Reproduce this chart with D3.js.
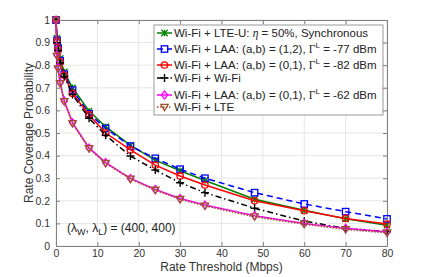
<!DOCTYPE html>
<html>
<head>
<meta charset="utf-8">
<script src="https://cdn.jsdelivr.net/npm/d3@7"></script>
<style>
body { margin: 0; background: #fff; }
text { font-family: "Liberation Sans", Arial, sans-serif; }
</style>
</head>
<body>
<svg id="chart" width="429" height="277"></svg>
<script>
const rates = [0, 0.25, 0.5, 1, 2, 4, 8, 12, 18, 24, 30, 36, 48, 60, 70, 80]

const lteU   = [1, 0.92, 0.88, 0.83, 0.77, 0.70, 0.597, 0.528, 0.445, 0.38, 0.333, 0.29, 0.207, 0.158, 0.12, 0.092]
const laa12  = [1, 0.91, 0.875, 0.82, 0.76, 0.69, 0.585, 0.52, 0.442, 0.388, 0.34, 0.30, 0.236, 0.186, 0.152, 0.12]
const laa01a = [1, 0.905, 0.87, 0.815, 0.755, 0.675, 0.58, 0.50, 0.425, 0.358, 0.31, 0.27, 0.20, 0.156, 0.122, 0.097]
const wifi   = [1, 0.90, 0.865, 0.81, 0.75, 0.67, 0.565, 0.49, 0.398, 0.336, 0.28, 0.236, 0.167, 0.11, 0.078, 0.064]
const laa01b = [1, 0.845, 0.79, 0.722, 0.642, 0.545, 0.434, 0.369, 0.299, 0.25, 0.21, 0.181, 0.134, 0.10, 0.078, 0.062]
const lte    = [1, 0.84, 0.785, 0.72, 0.64, 0.543, 0.432, 0.367, 0.297, 0.248, 0.207, 0.178, 0.13, 0.097, 0.074, 0.059]

const xTicks = [0, 10, 20, 30, 40, 50, 60, 70, 80]
const yTicks = [0, 0.1, 0.2, 0.3, 0.4, 0.5, 0.6, 0.7, 0.8, 0.9, 1]

const series = [
  {name: "lteU", values: lteU, color: "#008000", dash: null, marker: "x"},
  {name: "laa12", values: laa12, color: "#0000ff", dash: "6,4", marker: "square"},
  {name: "laa01a", values: laa01a, color: "#ff0000", dash: null, marker: "circle"},
  {name: "wifi", values: wifi, color: "#000000", dash: "6,3,1.5,3", marker: "plus"},
  {name: "laa01b", values: laa01b, color: "#ff00ff", dash: null, marker: "diamond"},
  {name: "lte", values: lte, color: "#a0522d", dash: "1.5,1.5", marker: "tri"}
]

let svg = d3.select("#chart")
let margin = {left: 56, right: 42, top: 20, bottom: 31}
let w = 429 - margin.left - margin.right
let h = 277 - margin.top - margin.bottom

const x = d3.scaleLinear().domain([0, 80]).range([margin.left, margin.left + w])
const y = d3.scaleLinear().domain([0, 1]).range([margin.top + h, margin.top])

// grid
let grid = svg.append("g")
grid.selectAll(".gx").data(xTicks).enter().append("line")
  .attr("x1", d => x(d)).attr("x2", d => x(d))
  .attr("y1", y(0)).attr("y2", y(1))
  .attr("stroke", "#e6e6e6").attr("stroke-width", 1)
grid.selectAll(".gy").data(yTicks).enter().append("line")
  .attr("x1", x(0)).attr("x2", x(80))
  .attr("y1", d => y(d)).attr("y2", d => y(d))
  .attr("stroke", "#e6e6e6").attr("stroke-width", 1)

// axes (ticks inside, matlab style)
const tk = 4
let axb = svg.append("g").attr("transform", "translate(0," + y(0) + ")")
  .call(d3.axisBottom(x).tickValues(xTicks).tickSizeInner(-tk).tickSizeOuter(0).tickPadding(4))
let axt = svg.append("g").attr("transform", "translate(0," + y(1) + ")")
  .call(d3.axisTop(x).tickValues(xTicks).tickSizeInner(-tk).tickSizeOuter(0).tickFormat(""))
let axl = svg.append("g").attr("transform", "translate(" + x(0) + ",0)")
  .call(d3.axisLeft(y).tickValues(yTicks).tickSizeInner(-tk).tickSizeOuter(0).tickPadding(6).tickFormat(d3.format("~g")))
let axr = svg.append("g").attr("transform", "translate(" + x(80) + ",0)")
  .call(d3.axisRight(y).tickValues(yTicks).tickSizeInner(-tk).tickSizeOuter(0).tickFormat(""))

for (let a of [axb, axt, axl, axr]) {
  a.select(".domain").attr("stroke", "#808080").attr("stroke-width", 1)
  a.selectAll(".tick line").attr("stroke", "#808080")
  a.selectAll("text").attr("fill", "#333").style("font-size", "10.5px")
    .style("font-family", "'Liberation Sans', Arial, sans-serif")
}

// axis labels
svg.append("text").attr("x", x(40)).attr("y", 271)
  .attr("text-anchor", "middle").style("font-size", "12px").attr("fill", "#333")
  .text("Rate Threshold (Mbps)")
svg.append("text").attr("transform", "translate(33," + y(0.5) + ") rotate(-90)")
  .attr("text-anchor", "middle").style("font-size", "12px").attr("fill", "#333")
  .text("Rate Coverage Probability")

// markers
function drawMarker(g, m, cx, cy, color) {
  let s = 3.2
  if (m == "x") {
    g.append("path").attr("d", `M${cx-s},${cy-s}L${cx+s},${cy+s}M${cx-s},${cy+s}L${cx+s},${cy-s}M${cx},${cy-s}L${cx},${cy+s}`)
      .attr("stroke", color).attr("stroke-width", 1.3).attr("fill", "none")
  } else if (m == "square") {
    g.append("rect").attr("x", cx - s).attr("y", cy - s).attr("width", 2 * s).attr("height", 2 * s)
      .attr("stroke", color).attr("stroke-width", 1.3).attr("fill", "none")
  } else if (m == "circle") {
    g.append("circle").attr("cx", cx).attr("cy", cy).attr("r", s)
      .attr("stroke", color).attr("stroke-width", 1.3).attr("fill", "none")
  } else if (m == "plus") {
    g.append("path").attr("d", `M${cx-s-0.8},${cy}L${cx+s+0.8},${cy}M${cx},${cy-s-0.8}L${cx},${cy+s+0.8}`)
      .attr("stroke", color).attr("stroke-width", 1.4).attr("fill", "none")
  } else if (m == "diamond") {
    g.append("path").attr("d", `M${cx},${cy-s-0.8}L${cx+s},${cy}L${cx},${cy+s+0.8}L${cx-s},${cy}Z`)
      .attr("stroke", color).attr("stroke-width", 1.3).attr("fill", "none")
  } else if (m == "tri") {
    g.append("path").attr("d", `M${cx-s-0.5},${cy-s+0.5}L${cx+s+0.5},${cy-s+0.5}L${cx},${cy+s+0.5}Z`)
      .attr("stroke", color).attr("stroke-width", 1.3).attr("fill", "none")
  }
}

const line = d3.line().x(d => x(d[0])).y(d => y(d[1]))

let plot = svg.append("g")
for (let s of series) {
  let pts = rates.map((r, i) => [r, s.values[i]])
  plot.append("path").datum(pts).attr("d", line)
    .attr("fill", "none").attr("stroke", s.color).attr("stroke-width", s.name == "lte" ? 1.8 : 1.5)
    .attr("stroke-dasharray", s.dash)
  let mg = plot.append("g")
  for (let p of pts) drawMarker(mg, s.marker, x(p[0]), y(p[1]), s.color)
}

// legend
let lg = svg.append("g")
lg.append("rect").attr("x", 154).attr("y", 25).attr("width", 229).attr("height", 90)
  .attr("fill", "#fff").attr("stroke", "#808080").attr("stroke-width", 0.8)
const rowY = [33, 49, 65, 78, 95, 107]
const labels = [
  ["Wi-Fi + LTE-U: ", {it: "η"}, " = 50%, Synchronous"],
  ["Wi-Fi + LAA: (a,b) = (1,2), ", {serif: "Γ"}, {sup: "L"}, {after: " = -77 dBm"}],
  ["Wi-Fi + LAA: (a,b) = (0,1), ", {serif: "Γ"}, {sup: "L"}, {after: " = -82 dBm"}],
  ["Wi-Fi + Wi-Fi"],
  ["Wi-Fi + LAA: (a,b) = (0,1), ", {serif: "Γ"}, {sup: "L"}, {after: " = -62 dBm"}],
  ["Wi-Fi + LTE"]
]
series.forEach((s, i) => {
  let cy = rowY[i]
  lg.append("line").attr("x1", 157).attr("x2", 172).attr("y1", cy).attr("y2", cy)
    .attr("stroke", s.color).attr("stroke-width", 1.5).attr("stroke-dasharray", s.dash)
  drawMarker(lg, s.marker, 164.5, cy, s.color)
  let t = lg.append("text").attr("x", 174).attr("y", cy + 4).style("font-size", "11.5px").attr("fill", "#222")
  for (let part of labels[i]) {
    if (typeof part == "string") t.append("tspan").text(part)
    else if (part.it) t.append("tspan").style("font-style", "italic").style("font-family", "'Liberation Serif', serif").text(part.it)
    else if (part.serif) t.append("tspan").style("font-family", "'Liberation Serif', serif").text(part.serif)
    else if (part.sup) t.append("tspan").attr("dy", -5).style("font-size", "8px").text(part.sup)
    else if (part.after) t.append("tspan").attr("dy", 5).text(part.after)
  }
})

// annotation
let an = svg.append("text").attr("x", 67).attr("y", 232).style("font-size", "12px").attr("fill", "#222")
an.append("tspan").text("(λ")
an.append("tspan").attr("dy", 3).style("font-size", "9px").text("W")
an.append("tspan").attr("dy", -3).text(", λ")
an.append("tspan").attr("dy", 3).style("font-size", "9px").text("L")
an.append("tspan").attr("dy", -3).text(") = (400, 400)")
</script>
</body>
</html>
